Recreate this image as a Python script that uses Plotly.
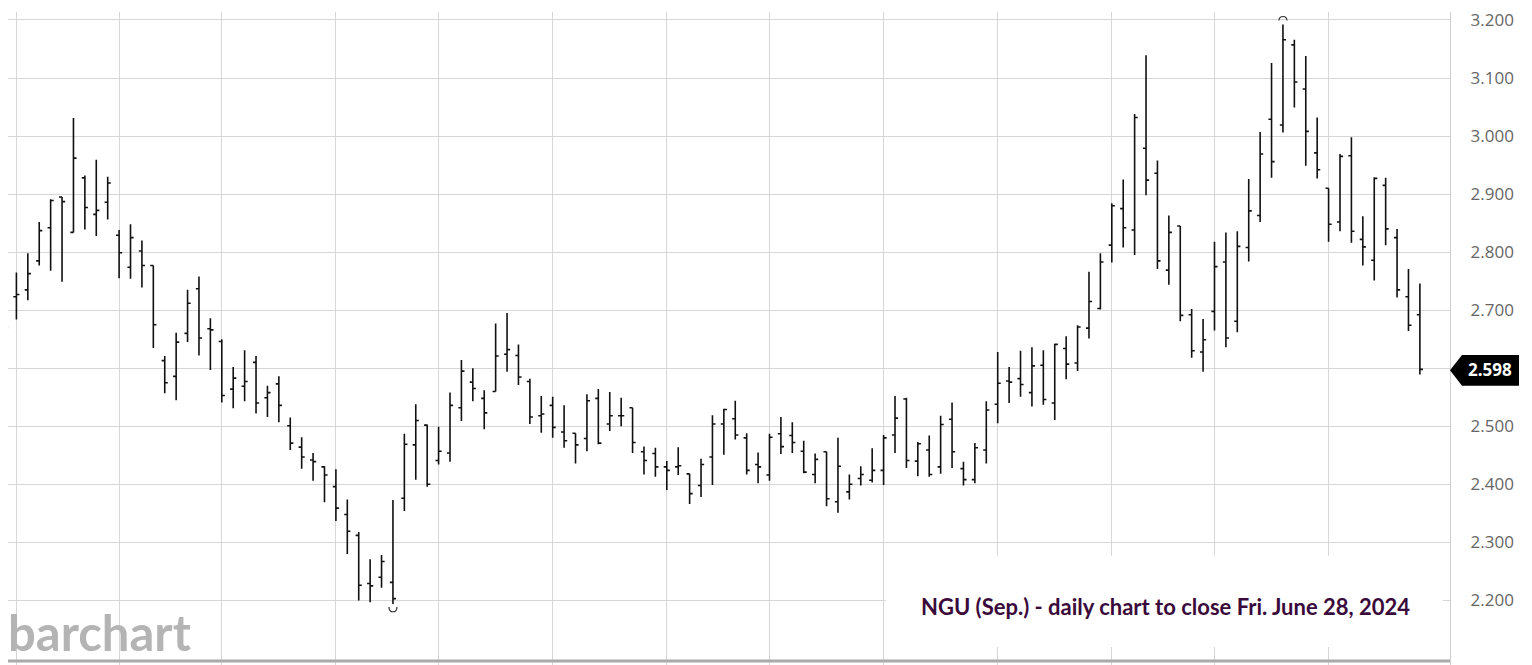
import plotly.graph_objects as go

# ---- data ----
bar_index = list(range(125))
opens = [2.686, 2.723, 2.735, 2.785, 2.842, 2.895, 2.834, 2.928, 2.865, 2.886,
         2.829, 2.774, 2.802, 2.777, 2.613, 2.586, 2.660, 2.737, 2.668, 2.646,
         2.564, 2.569, 2.610, 2.549, 2.573, 2.501, 2.464, 2.442, 2.430, 2.396,
         2.348, 2.312, 2.229, 2.240, 2.231, 2.376, 2.468, 2.502, 2.441, 2.454,
         2.532, 2.576, 2.548, 2.560, 2.624, 2.622, 2.577, 2.518, 2.536, 2.490,
         2.488, 2.479, 2.548, 2.504, 2.518, 2.532, 2.456, 2.453, 2.430, 2.430,
         2.418, 2.398, 2.447, 2.504, 2.513, 2.480, 2.434, 2.416, 2.487, 2.484,
         2.457, 2.417, 2.456, 2.370, 2.387, 2.410, 2.407, 2.424, 2.485, 2.547,
         2.440, 2.459, 2.430, 2.512, 2.427, 2.408, 2.459, 2.538, 2.578, 2.582,
         2.558, 2.605, 2.540, 2.634, 2.609, 2.669, 2.703, 2.812, 2.875, 2.838,
         2.979, 2.936, 2.769, 2.845, 2.692, 2.628, 2.698, 2.783, 2.681, 2.808,
         2.863, 3.029, 3.019, 3.157, 3.081, 2.971, 2.910, 2.852, 2.966, 2.822,
         2.786, 2.915, 2.825, 2.723, 2.692]
highs = [2.715, 2.765, 2.798, 2.852, 2.891, 2.895, 3.031, 2.932, 2.959, 2.930,
         2.838, 2.848, 2.820, 2.777, 2.621, 2.661, 2.735, 2.758, 2.686, 2.650,
         2.602, 2.631, 2.621, 2.570, 2.586, 2.515, 2.481, 2.454, 2.431, 2.426,
         2.374, 2.318, 2.271, 2.278, 2.373, 2.487, 2.538, 2.503, 2.499, 2.558,
         2.614, 2.600, 2.562, 2.677, 2.695, 2.641, 2.582, 2.552, 2.551, 2.536,
         2.488, 2.555, 2.564, 2.559, 2.549, 2.532, 2.465, 2.463, 2.440, 2.464,
         2.418, 2.444, 2.519, 2.530, 2.544, 2.488, 2.455, 2.487, 2.516, 2.507,
         2.475, 2.453, 2.456, 2.480, 2.417, 2.431, 2.462, 2.485, 2.552, 2.549,
         2.473, 2.484, 2.518, 2.541, 2.439, 2.471, 2.543, 2.628, 2.602, 2.630,
         2.636, 2.631, 2.642, 2.655, 2.674, 2.766, 2.798, 2.884, 2.925, 3.038,
         3.139, 2.958, 2.863, 2.845, 2.702, 2.685, 2.818, 2.834, 2.836, 2.926,
         3.007, 3.126, 3.192, 3.166, 3.138, 3.032, 2.910, 2.969, 2.998, 2.862,
         2.929, 2.928, 2.840, 2.771, 2.746]
lows = [2.654, 2.684, 2.717, 2.777, 2.768, 2.749, 2.834, 2.839, 2.828, 2.856,
        2.755, 2.754, 2.739, 2.635, 2.557, 2.545, 2.645, 2.622, 2.597, 2.541,
        2.531, 2.543, 2.522, 2.516, 2.507, 2.459, 2.427, 2.406, 2.369, 2.337,
        2.280, 2.200, 2.197, 2.222, 2.194, 2.354, 2.408, 2.396, 2.434, 2.439,
        2.509, 2.543, 2.495, 2.560, 2.594, 2.571, 2.504, 2.489, 2.480, 2.463,
        2.436, 2.457, 2.469, 2.492, 2.500, 2.454, 2.417, 2.413, 2.390, 2.416,
        2.366, 2.378, 2.399, 2.451, 2.477, 2.417, 2.402, 2.406, 2.452, 2.454,
        2.419, 2.402, 2.362, 2.351, 2.374, 2.398, 2.403, 2.399, 2.454, 2.428,
        2.414, 2.413, 2.418, 2.428, 2.398, 2.402, 2.436, 2.505, 2.540, 2.551,
        2.534, 2.537, 2.511, 2.581, 2.595, 2.651, 2.701, 2.782, 2.808, 2.795,
        2.898, 2.771, 2.744, 2.681, 2.618, 2.594, 2.665, 2.636, 2.662, 2.784,
        2.852, 2.928, 3.006, 3.049, 2.949, 2.927, 2.818, 2.836, 2.816, 2.777,
        2.751, 2.812, 2.722, 2.664, 2.589]
closes = [2.670, 2.727, 2.763, 2.837, 2.889, 2.887, 2.962, 2.877, 2.872, 2.919,
          2.799, 2.825, 2.777, 2.675, 2.575, 2.645, 2.712, 2.652, 2.666, 2.553,
          2.583, 2.577, 2.540, 2.558, 2.536, 2.471, 2.447, 2.439, 2.416, 2.359,
          2.319, 2.226, 2.225, 2.267, 2.203, 2.469, 2.510, 2.400, 2.457, 2.536,
          2.595, 2.565, 2.523, 2.621, 2.632, 2.585, 2.516, 2.521, 2.498, 2.475,
          2.468, 2.544, 2.471, 2.518, 2.518, 2.472, 2.441, 2.430, 2.424, 2.432,
          2.384, 2.434, 2.504, 2.529, 2.485, 2.424, 2.430, 2.481, 2.465, 2.472,
          2.421, 2.443, 2.375, 2.431, 2.400, 2.417, 2.424, 2.480, 2.514, 2.441,
          2.470, 2.417, 2.503, 2.456, 2.408, 2.463, 2.528, 2.574, 2.576, 2.572,
          2.604, 2.546, 2.641, 2.607, 2.671, 2.715, 2.783, 2.880, 2.842, 3.032,
          2.924, 2.785, 2.834, 2.691, 2.630, 2.649, 2.775, 2.652, 2.810, 2.871,
          2.969, 2.956, 3.166, 3.093, 3.008, 2.942, 2.848, 2.965, 2.836, 2.809,
          2.927, 2.840, 2.735, 2.674, 2.598]

grid_bars = [1, 10, 19, 29, 38, 48, 58, 67, 77, 87, 97, 106, 116]
y_ticks = [2.2, 2.3, 2.4, 2.5, 2.6, 2.7, 2.8, 2.9, 3.0, 3.1, 3.2]
y_labels = ["2.200", "2.300", "2.400", "2.500", "2.600", "2.700",
            "2.800", "2.900", "3.000", "3.100", "3.200"]
last_price = 2.598
last_label = "2.598"
high_bar, high_val = 112, 3.192
low_bar, low_val = 34, 2.194
title_text = "NGU (Sep.) - daily chart to close Fri. June 28, 2024"
watermark = "barchart"

# ---- layout geometry (page body adds an 8px offset) ----
OFF = 8
W, H = 1532 - OFF, 665 - OFF
ML, MR, MT, MB = 0, 82, 0, 0
PW, PH = W - ML - MR, H - MT - MB
Y0, Y1 = 2.0887, 3.2137
X0, X1 = 0.263, 126.64


def px_x(px):
    return (px - OFF - ML) / PW


def px_y(py):
    return 1 - (py - OFF - MT) / PH


grid = "#d6d6d6"

fig = go.Figure(
    go.Ohlc(
        x=bar_index, open=opens, high=highs, low=lows, close=closes,
        increasing=dict(line=dict(color="#111111", width=1.6)),
        decreasing=dict(line=dict(color="#111111", width=1.6)),
        tickwidth=0.27, hoverinfo="skip", showlegend=False,
    )
)

shapes = []
# white box behind the caption
shapes.append(dict(type="rect", xref="paper", yref="paper",
                   x0=px_x(886), x1=px_x(1443), y0=px_y(647), y1=px_y(555),
                   fillcolor="white", line=dict(width=0), layer="above"))
# bottom grey bar
shapes.append(dict(type="line", xref="paper", yref="paper",
                   x0=0, x1=px_x(1450), y0=px_y(661), y1=px_y(661),
                   line=dict(color="#aaaaaa", width=3), layer="above"))
# high / low arcs
shapes.append(dict(type="path", xsizemode="pixel", ysizemode="pixel",
                   xref="x", yref="y", xanchor=high_bar, yanchor=high_val,
                   path="M -4,4 C -4,9.5 4,9.5 4,4",
                   line=dict(color="#333333", width=1.2)))
shapes.append(dict(type="path", xsizemode="pixel", ysizemode="pixel",
                   xref="x", yref="y", xanchor=low_bar, yanchor=low_val,
                   path="M -4,-3 C -4,-9.5 4,-9.5 4,-3",
                   line=dict(color="#333333", width=1.2)))
# last price tag (pentagon)
yc = 368.5
tag = (f"M {px_x(1450)},{px_y(yc)} L {px_x(1462)},{px_y(353)} "
       f"L {px_x(1519)},{px_y(353)} L {px_x(1519)},{px_y(384)} "
       f"L {px_x(1462)},{px_y(384)} Z")
shapes.append(dict(type="path", xref="paper", yref="paper", path=tag,
                   fillcolor="black", line=dict(color="black", width=0),
                   layer="above"))

annotations = [
    dict(text=last_label, xref="paper", yref="y", x=px_x(1490), y=last_price,
         showarrow=False, xanchor="center", yanchor="middle",
         font=dict(family="Open Sans", size=17, color="white", weight="bold")),
    dict(text=title_text, xref="paper", yref="paper", x=px_x(1165), y=px_y(606),
         showarrow=False, xanchor="center", yanchor="middle",
         font=dict(family="Lato", size=22, color="#3a0a3a", weight="bold")),
    dict(text=watermark, xref="paper", yref="paper", x=px_x(6), y=px_y(632),
         showarrow=False, xanchor="left", yanchor="middle",
         font=dict(family="Lato", size=49, color="#b4b4b4", weight="bold")),
]

fig.update_layout(
    width=W, height=H,
    margin=dict(l=ML, r=MR, t=MT, b=MB, pad=0),
    paper_bgcolor="white", plot_bgcolor="white",
    shapes=shapes, annotations=annotations, showlegend=False,
    xaxis=dict(range=[X0, X1], tickvals=grid_bars, showticklabels=False,
               showgrid=True, gridcolor=grid, gridwidth=1.4, zeroline=False,
               ticks="", rangeslider=dict(visible=False), showline=False,
               fixedrange=True),
    yaxis=dict(range=[Y0, Y1], side="right", tickvals=y_ticks, ticktext=y_labels,
               showgrid=True, gridcolor=grid, gridwidth=1.4, zeroline=False,
               ticks="", showline=True, linecolor="#cfcfcf", linewidth=1.4,
               ticklabelstandoff=16, ticklabeloverflow="allow",
               tickfont=dict(family="Open Sans", size=17, color="#666666"),
               fixedrange=True),
)

fig.write_html("out.html")
